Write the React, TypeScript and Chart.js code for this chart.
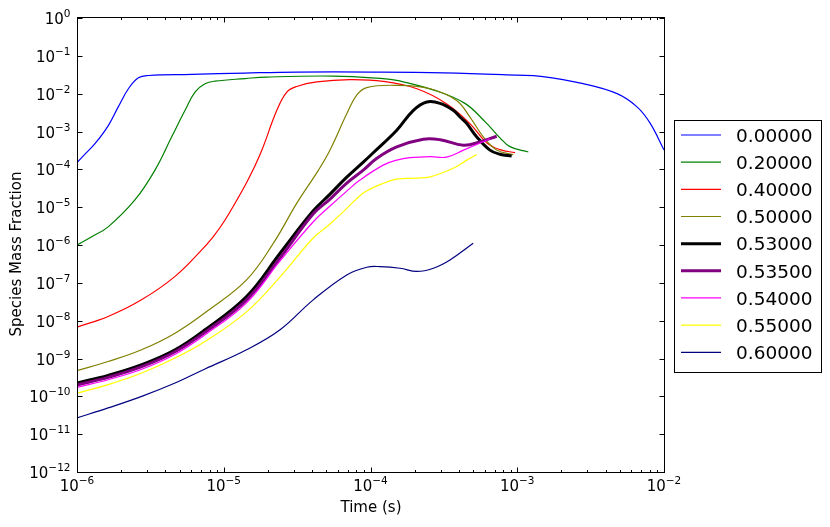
import { useEffect, useRef } from 'react';
import { Chart, registerables } from 'chart.js';

Chart.register(...registerables);

// ---------- data ----------
const seriesLabels = ['0.00000', '0.20000', '0.40000', '0.50000', '0.53000', '0.53500', '0.54000', '0.55000', '0.60000'];
const seriesColors = ['#0000ff', '#008000', '#ff0000', '#808000', '#000000', '#800080', '#ff00ff', '#ffff00', '#000080'];
const seriesWidths = [1.2, 1.2, 1.2, 1.2, 3, 3, 1.2, 1.2, 1.2];

const time000 = [1.0e-6, 1.15e-6, 1.33e-6, 1.63e-6, 1.91e-6, 2.24e-6, 2.62e-6, 3.06e-6, 6.04e-6, 1.40e-5, 3.16e-5, 1.0e-4, 3.16e-4, 1.0e-3, 1.45e-3, 2.81e-3, 4.79e-3, 6.55e-3, 8.04e-3, 1.0e-2];
const frac000 = [1.51e-4, 2.67e-4, 4.82e-4, 1.41e-3, 4.47e-3, 1.35e-2, 2.63e-2, 3.02e-2, 3.24e-2, 3.51e-2, 3.72e-2, 3.72e-2, 3.55e-2, 3.09e-2, 2.88e-2, 1.84e-2, 1.0e-2, 4.47e-3, 1.66e-3, 3.24e-4];

const time020 = [1.0e-6, 1.26e-6, 1.63e-6, 2.48e-6, 3.40e-6, 4.42e-6, 5.45e-6, 6.37e-6, 7.45e-6, 8.71e-6, 1.40e-5, 1.96e-5, 5.56e-5, 1.22e-4, 1.51e-4, 2.67e-4, 4.37e-4, 6.03e-4, 7.59e-4, 8.91e-4, 1.19e-3];
const frac020 = [1.0e-6, 1.66e-6, 3.02e-6, 1.55e-5, 9.55e-5, 7.24e-4, 3.63e-3, 1.10e-2, 1.82e-2, 2.14e-2, 2.51e-2, 2.75e-2, 2.92e-2, 2.51e-2, 2.24e-2, 1.26e-2, 5.62e-3, 1.82e-3, 6.92e-4, 3.98e-4, 2.88e-4];

const time040 = [1.0e-6, 1.63e-6, 2.75e-6, 4.66e-6, 7.08e-6, 8.49e-6, 1.02e-5, 1.40e-5, 1.58e-5, 1.82e-5, 2.30e-5, 2.69e-5, 3.14e-5, 4.30e-5, 7.24e-5, 1.22e-4, 2.07e-4, 3.31e-4, 4.76e-4, 6.19e-4, 7.64e-4, 9.66e-4];
const frac040 = [6.76e-9, 1.29e-8, 3.55e-8, 1.48e-7, 7.41e-7, 1.66e-6, 4.57e-6, 3.80e-5, 9.55e-5, 3.24e-4, 3.63e-3, 1.10e-2, 1.55e-2, 2.04e-2, 2.34e-2, 2.11e-2, 1.35e-2, 5.37e-3, 1.62e-3, 5.01e-4, 3.31e-4, 2.75e-4];

const time050 = [1.0e-6, 1.63e-6, 2.75e-6, 4.66e-6, 7.76e-6, 1.43e-5, 2.18e-5, 3.14e-5, 4.42e-5, 5.30e-5, 6.89e-5, 8.05e-5, 9.42e-5, 1.51e-4, 2.55e-4, 3.86e-4, 4.76e-4, 5.87e-4, 7.24e-4, 9.40e-4];
const frac050 = [4.79e-10, 8.32e-10, 1.70e-9, 4.68e-9, 1.82e-8, 1.20e-7, 1.12e-6, 1.26e-5, 9.55e-5, 3.24e-4, 2.95e-3, 9.12e-3, 1.45e-2, 1.66e-2, 1.35e-2, 6.61e-3, 2.40e-3, 7.24e-4, 3.24e-4, 2.45e-4];

const time053 = [1.0e-6, 1.63e-6, 2.76e-6, 4.66e-6, 7.45e-6, 1.43e-5, 2.42e-5, 4.06e-5, 5.30e-5, 6.89e-5, 8.93e-5, 1.04e-4, 1.51e-4, 1.96e-4, 2.42e-4, 2.98e-4, 3.66e-4, 4.07e-4, 4.53e-4, 5.30e-4, 6.52e-4, 7.62e-4, 9.16e-4];
const frac053 = [2.25e-10, 3.58e-10, 6.86e-10, 1.70e-9, 5.74e-9, 4.34e-8, 6.05e-7, 7.89e-6, 2.21e-5, 6.22e-5, 1.55e-4, 2.70e-4, 1.08e-3, 3.63e-3, 6.03e-3, 5.56e-3, 3.63e-3, 2.42e-3, 1.62e-3, 7.19e-4, 3.21e-4, 2.51e-4, 2.26e-4];

const time0535 = [1.0e-6, 1.63e-6, 2.76e-6, 4.66e-6, 7.45e-6, 1.43e-5, 2.42e-5, 4.06e-5, 5.30e-5, 6.89e-5, 8.93e-5, 1.10e-4, 1.51e-4, 2.29e-4, 2.98e-4, 4.30e-4, 5.57e-4, 7.24e-4];
const frac0535 = [2.00e-10, 3.17e-10, 6.07e-10, 1.51e-9, 4.93e-9, 3.55e-8, 4.55e-7, 6.58e-6, 1.64e-5, 4.33e-5, 9.53e-5, 1.94e-4, 3.92e-4, 6.25e-4, 6.07e-4, 4.35e-4, 5.31e-4, 7.50e-4];

const time054 = [1.0e-6, 1.63e-6, 2.76e-6, 4.66e-6, 7.45e-6, 1.43e-5, 2.42e-5, 4.06e-5, 5.30e-5, 6.89e-5, 8.47e-5, 1.22e-4, 1.51e-4, 1.86e-4, 2.55e-4, 3.30e-4, 4.30e-4, 6.52e-4];
const frac054 = [1.73e-10, 2.75e-10, 5.21e-10, 1.30e-9, 4.24e-9, 2.96e-8, 3.79e-7, 4.05e-6, 1.07e-5, 2.66e-5, 5.19e-5, 1.29e-4, 1.75e-4, 2.03e-4, 2.16e-4, 2.10e-4, 3.21e-4, 6.44e-4];

const time055 = [1.0e-6, 1.63e-6, 2.76e-6, 4.66e-6, 7.45e-6, 1.43e-5, 2.42e-5, 4.07e-5, 5.30e-5, 6.70e-5, 8.93e-5, 1.10e-4, 1.51e-4, 2.07e-4, 2.55e-4, 3.66e-4, 4.53e-4, 5.30e-4];
const frac055 = [1.21e-10, 2.04e-10, 4.14e-10, 1.03e-9, 2.82e-9, 1.71e-8, 1.44e-7, 1.53e-6, 3.58e-6, 8.37e-6, 2.36e-5, 3.60e-5, 5.51e-5, 5.85e-5, 6.34e-5, 1.07e-4, 1.75e-4, 2.47e-4];

const time060 = [1.0e-6, 1.63e-6, 2.76e-6, 4.66e-6, 7.45e-6, 1.43e-5, 2.42e-5, 4.07e-5, 6.89e-5, 9.42e-5, 1.16e-4, 1.59e-4, 2.07e-4, 2.68e-4, 3.48e-4, 5.01e-4];
const frac060 = [2.69e-11, 4.94e-11, 1.0e-10, 2.25e-10, 5.28e-10, 1.70e-9, 5.74e-9, 3.55e-8, 1.62e-7, 2.58e-7, 2.68e-7, 2.43e-7, 2.00e-7, 2.43e-7, 4.03e-7, 1.11e-6];

const seriesTimes = [time000, time020, time040, time050, time053, time0535, time054, time055, time060];
const seriesFracs = [frac000, frac020, frac040, frac050, frac053, frac0535, frac054, frac055, frac060];

const xTickExponents = [-6, -5, -4, -3, -2];
const yTickExponents = [0, -1, -2, -3, -4, -5, -6, -7, -8, -9, -10, -11, -12];
const xMinorSubs = [2, 3, 4, 5, 6, 7, 8, 9];
const xAxisTitle = 'Time (s)';
const yAxisTitle = 'Species Mass Fraction';

const FONT = '"DejaVu Sans", "Liberation Sans", sans-serif';

function supText(e: number): string {
  return e < 0 ? '\u2212' + String(-e) : String(e);
}

function drawPow(ctx: CanvasRenderingContext2D, e: number, x: number, baseY: number, align: 'center' | 'right') {
  const base = '10';
  const sup = supText(e);
  ctx.font = `15px ${FONT}`;
  const wb = ctx.measureText(base).width;
  ctx.font = `10.5px ${FONT}`;
  const ws = ctx.measureText(sup).width;
  const start = align === 'center' ? x - (wb + ws) / 2 : x - wb - ws;
  ctx.textAlign = 'left';
  ctx.textBaseline = 'alphabetic';
  ctx.font = `15px ${FONT}`;
  ctx.fillText(base, start, baseY);
  ctx.font = `10.5px ${FONT}`;
  ctx.fillText(sup, start + wb, baseY - 7);
}

const framePlugin = {
  id: 'mplFrame',
  afterDraw(chart: any) {
    const ctx: CanvasRenderingContext2D = chart.ctx;
    const xs = chart.scales.x;
    const ys = chart.scales.y;
    const L = Math.round(xs.getPixelForValue(1e-6)) + 0.5;
    const R = Math.round(xs.getPixelForValue(1e-2)) + 0.5;
    const T = Math.round(ys.getPixelForValue(1)) - 0.5;
    const B = Math.round(ys.getPixelForValue(1e-12)) + 0.5;
    ctx.save();
    ctx.strokeStyle = '#000';
    ctx.fillStyle = '#000';
    ctx.lineWidth = 1;
    ctx.strokeRect(L, T, R - L, B - T);

    ctx.beginPath();
    for (const e of xTickExponents) {
      const px = Math.round(xs.getPixelForValue(Math.pow(10, e))) + 0.5;
      ctx.moveTo(px, B); ctx.lineTo(px, B - 5);
      ctx.moveTo(px, T); ctx.lineTo(px, T + 5);
      if (e < -2) {
        for (const m of xMinorSubs) {
          const mx = Math.round(xs.getPixelForValue(m * Math.pow(10, e))) + 0.5;
          ctx.moveTo(mx, B); ctx.lineTo(mx, B - 2.5);
          ctx.moveTo(mx, T); ctx.lineTo(mx, T + 2.5);
        }
      }
    }
    for (const e of yTickExponents) {
      const py = Math.round(ys.getPixelForValue(Math.pow(10, e))) + 0.5;
      ctx.moveTo(L, py); ctx.lineTo(L + 5, py);
      ctx.moveTo(R, py); ctx.lineTo(R - 5, py);
    }
    ctx.stroke();

    for (const e of xTickExponents) {
      const px = xs.getPixelForValue(Math.pow(10, e));
      drawPow(ctx, e, px, B + 18.5, 'center');
    }
    for (const e of yTickExponents) {
      const py = ys.getPixelForValue(Math.pow(10, e));
      drawPow(ctx, e, L - 7, py + 6, 'right');
    }

    ctx.font = `15px ${FONT}`;
    ctx.textAlign = 'center';
    ctx.textBaseline = 'middle';
    ctx.fillText(xAxisTitle, (L + R) / 2, 508);
    ctx.save();
    ctx.translate(17, 254);
    ctx.rotate(-Math.PI / 2);
    ctx.fillText(yAxisTitle, 0, 0);
    ctx.restore();

    const lx = 674.5, ly = 120.5, lw = 147, lh = 252;
    ctx.fillStyle = '#fff';
    ctx.fillRect(lx, ly, lw, lh);
    ctx.strokeStyle = '#000';
    ctx.lineWidth = 1;
    ctx.strokeRect(lx, ly, lw, lh);
    ctx.font = `18.5px ${FONT}`;
    ctx.textAlign = 'left';
    ctx.textBaseline = 'alphabetic';
    seriesLabels.forEach((lab, i) => {
      const cy = 135 + i * 27.16;
      ctx.strokeStyle = seriesColors[i];
      ctx.lineWidth = seriesWidths[i];
      ctx.beginPath();
      ctx.moveTo(681, cy);
      ctx.lineTo(721, cy);
      ctx.stroke();
      ctx.fillStyle = '#000';
      ctx.fillText(lab, 736, cy + 6.7);
    });
    ctx.restore();
  },
};

export default function App() {
  const canvasRef = useRef<HTMLCanvasElement | null>(null);

  useEffect(() => {
    if (!canvasRef.current) return;
    const datasets = seriesLabels.map((lab, i) => ({
      label: lab,
      data: seriesTimes[i].map((t, j) => ({ x: t, y: seriesFracs[i][j] })),
      borderColor: seriesColors[i],
      backgroundColor: seriesColors[i],
      borderWidth: seriesWidths[i],
      pointRadius: 0,
      pointHoverRadius: 0,
      fill: false,
      tension: 0.4,
      borderJoinStyle: 'round' as const,
      borderCapStyle: 'butt' as const,
      order: -i,
    }));
    const chart = new Chart(canvasRef.current, {
      type: 'line',
      data: { datasets },
      options: {
        animation: false,
        responsive: true,
        maintainAspectRatio: false,
        events: [],
        layout: { padding: { top: 18, right: 166, left: 0, bottom: 0 } },
        plugins: { legend: { display: false }, tooltip: { enabled: false } },
        scales: {
          x: {
            type: 'logarithmic',
            min: 1e-6,
            max: 1e-2,
            ticks: { display: false },
            grid: { display: false },
            border: { display: false },
            afterFit: (s: any) => { s.height = 55; },
          },
          y: {
            type: 'logarithmic',
            min: 1e-12,
            max: 1,
            ticks: { display: false },
            grid: { display: false },
            border: { display: false },
            afterFit: (s: any) => { s.width = 77; },
          },
        },
      },
      plugins: [framePlugin],
    });
    return () => chart.destroy();
  }, []);

  return (
    <div style={{ position: 'absolute', left: 0, top: 0, width: 830, height: 527, background: '#fff' }}>
      <canvas ref={canvasRef} />
    </div>
  );
}
